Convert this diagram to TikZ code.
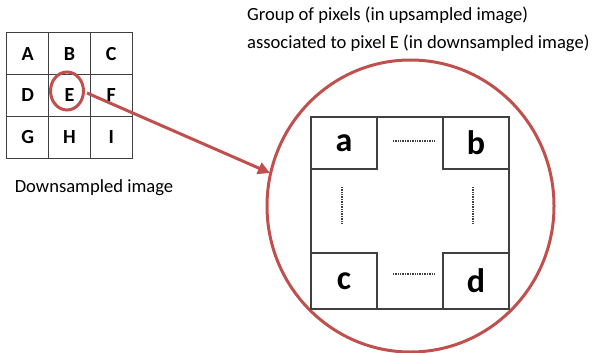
\documentclass[tikz,border=0pt]{standalone}
\usepackage{fontspec}
\setmainfont{Carlito}
\usetikzlibrary{arrows.meta,shapes.geometric}
\definecolor{accred}{HTML}{C0504D}
\definecolor{gridline}{HTML}{404040}
\tikzset{
  cell/.style={draw=gridline, line width=1pt, minimum width=41.67pt, minimum height=41.67pt, inner sep=0pt, font=\fontsize{20}{22}\selectfont\bfseries},
  corner/.style={draw=gridline, line width=1.2pt, minimum width=66pt, inner sep=0pt, font=\fontsize{34}{36}\selectfont\bfseries},
  redline/.style={draw=accred, line width=3pt},
  dots/.style={draw=gridline, line width=1.3pt, dash pattern=on 1pt off 0.7pt},
  lbl/.style={font=\fontsize{18.6}{28}\selectfont, align=left, inner sep=0pt}
}
\begin{document}
\begin{tikzpicture}[x=1pt,y=-1pt]
\useasboundingbox (0,0) rectangle (594,353);
% downsampled grid
\node[cell] (A) at (27.8,53.8) {A};
\node[cell] (B) at (69.5,53.8) {B};
\node[cell] (C) at (111.2,53.8) {C};
\node[cell] (D) at (27.8,95.5) {D};
\node[cell] (E) at (69.5,95.5) {E};
\node[cell] (F) at (111.2,95.5) {F};
\node[cell] (G) at (27.8,137.2) {G};
\node[cell] (H) at (69.5,137.2) {H};
\node[cell] (I) at (111.2,137.2) {I};
\node[redline, ellipse, minimum width=33pt, minimum height=38pt, inner sep=0pt] (Ering) at (67,91) {};
\node[lbl, anchor=center] (down) at (94,188) {Downsampled image};
% big circle
\node[redline, ellipse, minimum width=287pt, minimum height=292pt, inner sep=0pt] (big) at (410.5,206) {};
\node[lbl, anchor=north west] (title) at (247,7) {Group of pixels (in upsampled image)\\associated to pixel E (in downsampled image)};
% upsampled block
\node[draw=gridline, line width=1.2pt, minimum width=198pt, minimum height=192pt, inner sep=0pt] (block) at (410,213) {};
\node[corner, minimum height=52pt] (a) at (344,143) {a};
\node[corner, minimum height=52pt] (b) at (476,143) {b};
\node[corner, minimum height=56pt] (c) at (344,281) {c};
\node[corner, minimum height=56pt] (d) at (476,281) {d};
\draw[dots] (393,141) -- (435,141);
\draw[dots] (393,274) -- (435,274);
\draw[dots] (342,187) -- (342,223);
\draw[dots] (473,187) -- (473,223);
% arrow
\coordinate (tip) at (270,173);
\draw[redline, -{Triangle[length=12pt,width=12pt]}] (Ering.east) ++(2,2) -- (tip);
\end{tikzpicture}
\end{document}
